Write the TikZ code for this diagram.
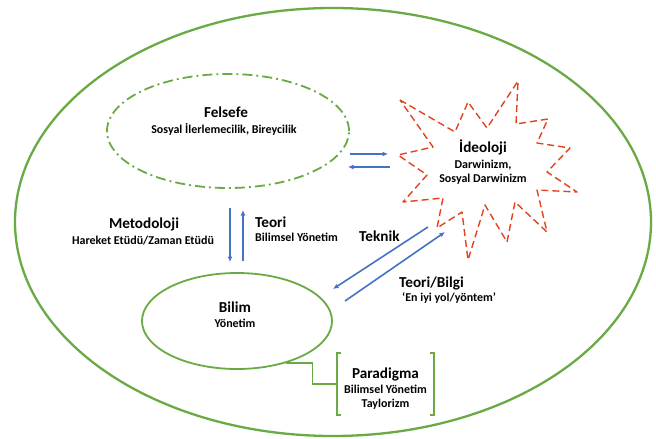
\documentclass[tikz,border=0pt]{standalone}
\usepackage{fontspec}
\setmainfont{Carlito}
\usetikzlibrary{shapes.geometric,arrows.meta}

\definecolor{ringgreen}{HTML}{6AAA45}
\definecolor{flowblue}{HTML}{4472C4}
\definecolor{burstred}{HTML}{E2431E}

\begin{document}
\begin{tikzpicture}[
  x=1pt, y=-1pt,
  every node/.style = {inner sep=0pt, anchor=base},
  title/.style = {font=\fontsize{15.2}{17}\selectfont\bfseries},
  sub/.style = {font=\fontsize{12}{14}\selectfont\bfseries},
  field/.style = {draw=ringgreen, ellipse, line width=1.8pt, anchor=center},
  flow/.style = {draw=flowblue, line width=1.6pt, -{Latex[length=5.5pt,width=5pt]}},
  burst/.style = {draw=burstred, line width=1.4pt, dash pattern=on 7pt off 4pt, line join=round}
]
  \useasboundingbox (0,0) rectangle (656,439);

  % outer frame
  \node[field, line width=2.3pt, minimum width=636pt, minimum height=428pt] (world) at (333,222) {};

  % Felsefe
  \node[field, dash pattern=on 10pt off 4pt on 2pt off 4pt, minimum width=242pt, minimum height=114pt] (felsefe) at (228,131) {};
  \node[title] (felsefeT) at (226,117) {Felsefe};
  \node[sub] (felsefeS) at (224,133) {Sosyal İlerlemecilik, Bireycilik};

  % Ideoloji burst
  \draw[burst] (400,100) -- (455,132) -- (468,102) -- (487,128) -- (518,81) -- (516,124)
    -- (548,119) -- (537,143) -- (570,148) -- (547,172) -- (577,192) -- (537,190)
    -- (547,232) -- (515,202) -- (507,242) -- (485,205) -- (468,260) -- (462,212)
    -- (437,228) -- (443,198) -- (403,202) -- (427,175) -- (398,155) -- (433,147) -- cycle;
  \node[title] (ideolojiT) at (483,152) {İdeoloji};
  \node[sub] (ideolojiS1) at (483,168) {Darwinizm,};
  \node[sub] (ideolojiS2) at (483,182) {Sosyal Darwinizm};

  % Bilim
  \node[field, minimum width=190pt, minimum height=96pt] (bilim) at (237,321) {};
  \node[title] (bilimT) at (235,312) {Bilim};
  \node[sub] (bilimS) at (235,327) {Yönetim};

  % Paradigma
  \node[anchor=center, minimum width=97pt, minimum height=62pt] (para) at (385.5,384) {};
  \node[title] (paraT) at (para.center |- 0,378) {Paradigma};
  \node[sub] (paraS1) at (para.center |- 0,393) {Bilimsel Yönetim};
  \node[sub] (paraS2) at (para.center |- 0,407) {Taylorizm};
  \draw[ringgreen, line width=1.5pt] ([xshift=4pt]para.north west) -| (para.south west) -- ++(4,0);
  \draw[ringgreen, line width=1.5pt] ([xshift=-4pt]para.north east) -| (para.south east) -- ++(-4,0);
  \draw[ringgreen, line width=1.5pt] (bilim.-41) -- ++(27,0) |- (para.west);

  % connectors
  \coordinate (fa1) at (350,154);  \coordinate (ib1) at (388,154);
  \coordinate (ia2) at (390,167);  \coordinate (fb2) at (348,167);
  \coordinate (fd1) at (230,208);  \coordinate (bu1) at (230,262);
  \coordinate (bu2) at (243,261);  \coordinate (fd2) at (243,210);
  \coordinate (it1) at (428,227);  \coordinate (bt1) at (333,289);
  \coordinate (bt2) at (345,301);  \coordinate (it2) at (445,232);
  \draw[flow] (fa1) -- (ib1);
  \draw[flow] (ia2) -- (fb2);
  \draw[flow] (fd1) -- (bu1);
  \draw[flow] (bu2) -- (fd2);
  \draw[flow] (it1) -- (bt1);
  \draw[flow] (bt2) -- (it2);

  % labels
  \node[title] (metodT) at (144,228) {Metodoloji};
  \node[sub] (metodS) at (143,244) {Hareket Etüdü/Zaman Etüdü};
  \node[title, anchor=base west] (teoriT) at (255,227) {Teori};
  \node[sub, anchor=base west] (teoriS) at (255,241) {Bilimsel Yönetim};
  \node[title, anchor=base west] (teknikT) at (359,241) {Teknik};
  \node[title, anchor=base west] (bilgiT) at (399,287) {Teori/Bilgi};
  \node[sub, anchor=base west] (bilgiS) at (402,301) {‘En iyi yol/yöntem’};
\end{tikzpicture}
\end{document}
